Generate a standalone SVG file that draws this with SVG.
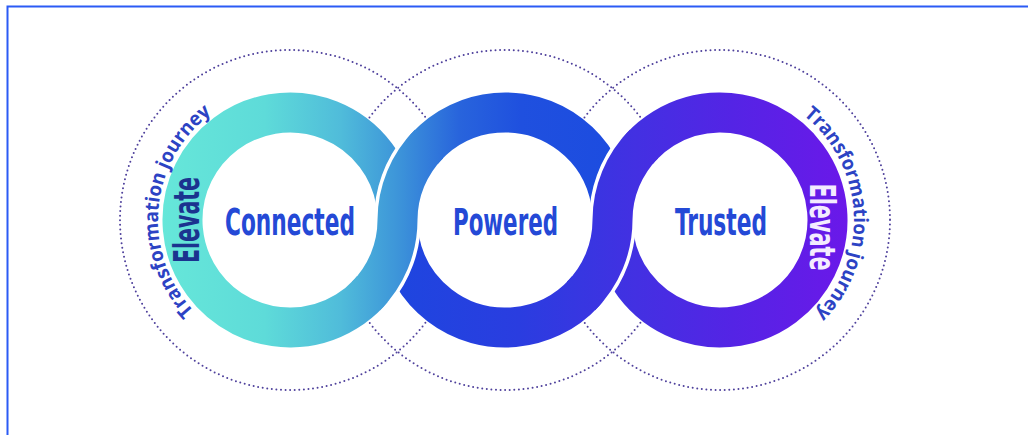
<svg xmlns="http://www.w3.org/2000/svg" xmlns:xlink="http://www.w3.org/1999/xlink" width="1028" height="435" viewBox="0 0 1028 435">
  <defs>
    <linearGradient id="gA" gradientUnits="userSpaceOnUse" x1="160" y1="0" x2="635" y2="0">
      <stop offset="0" stop-color="#66e7d9"/>
      <stop offset="0.22" stop-color="#5edbd9"/>
      <stop offset="0.38" stop-color="#50bcda"/>
      <stop offset="0.5" stop-color="#3d95d9"/>
      <stop offset="0.63" stop-color="#2864dc"/>
      <stop offset="0.76" stop-color="#1f50df"/>
      <stop offset="1" stop-color="#1c4be0"/>
    </linearGradient>
    <linearGradient id="gB" gradientUnits="userSpaceOnUse" x1="377" y1="0" x2="850" y2="0">
      <stop offset="0" stop-color="#1c47df"/>
      <stop offset="0.3" stop-color="#2a3de0"/>
      <stop offset="0.55" stop-color="#4330e2"/>
      <stop offset="0.75" stop-color="#5424e5"/>
      <stop offset="1" stop-color="#6b18e9"/>
    </linearGradient>
    <path id="arcL" d="M278.41 352.49 A133 133 0 0 1 301.59 87.51"/>
    <path id="arcR" d="M711.82 86.25 A134 134 0 0 1 728.18 353.75"/>
  </defs>
  <style>
    .dot { fill: none; stroke: #4f419c; stroke-width: 2; stroke-dasharray: 0 4.6; stroke-linecap: round; }
    .disk { fill: #ffffff; }
    .band { fill: none; stroke-width: 40; stroke-linejoin: round; }
    .gap { fill: none; stroke: #ffffff; stroke-width: 47; }
    .label { font-family: 'DejaVu Sans Condensed', 'DejaVu Sans', sans-serif; font-stretch: condensed; font-weight: bold; font-size: 37px; fill: #2449d6; text-anchor: middle; }
    .elev { font-family: 'DejaVu Sans Condensed', 'DejaVu Sans', sans-serif; font-stretch: condensed; font-weight: bold; font-size: 36px; text-anchor: middle; }
    .journey { font-family: 'Open Sans', 'DejaVu Sans', sans-serif; font-weight: 700; font-size: 19.5px; fill: #2c43c4; }
  </style>
  <rect x="0" y="0" width="1028" height="435" fill="#ffffff"/>
  <path d="M7.5 435 V6.5 H1028" fill="none" stroke="#2b5bf5" stroke-width="2"/>

  <g id="guides">
    <circle class="dot" cx="290" cy="220" r="170"/>
    <circle class="dot" cx="505" cy="220" r="170"/>
    <circle class="dot" cx="720" cy="220" r="170"/>
  </g>

  <g id="disks">
    <circle class="disk" cx="290" cy="220" r="127.5"/>
    <circle class="disk" cx="505" cy="220" r="127.5"/>
    <circle class="disk" cx="720" cy="220" r="127.5"/>
  </g>

  <g id="connectors">
    <path class="band" stroke="url(#gA)" d="M395.87 201.33 A107.5 107.5 0 1 0 397.5 220 A107.5 107.5 0 0 1 610.87 201.33"/>
    <path class="band" stroke="url(#gB)" d="M399.13 238.67 A107.5 107.5 0 0 0 612.5 220 A107.5 107.5 0 1 1 614.13 238.67"/>
    <path class="gap" d="M372.35 289.10 A107.5 107.5 0 0 0 397.5 220 A107.5 107.5 0 0 1 422.65 150.90"/>
    <path class="band" stroke="url(#gA)" d="M366.01 296.01 A107.5 107.5 0 0 0 397.5 220 A107.5 107.5 0 0 1 428.99 143.99"/>
    <path class="gap" d="M587.35 289.10 A107.5 107.5 0 0 0 612.5 220 A107.5 107.5 0 0 1 637.65 150.90"/>
    <path class="band" stroke="url(#gB)" d="M581.01 296.01 A107.5 107.5 0 0 0 612.5 220 A107.5 107.5 0 0 1 643.99 143.99"/>
  </g>

  <g id="node-connected">
    <text class="label" x="290" y="235" textLength="130" lengthAdjust="spacingAndGlyphs">Connected</text>
    <text class="elev" fill="#1b338f" transform="translate(199 220) rotate(-90)" textLength="86" lengthAdjust="spacingAndGlyphs">Elevate</text>
    <text class="journey"><textPath xlink:href="#arcL" startOffset="50%" text-anchor="middle" textLength="224" lengthAdjust="spacingAndGlyphs">Transformation journey</textPath></text>
  </g>

  <g id="node-powered">
    <text class="label" x="505.5" y="235" textLength="105" lengthAdjust="spacingAndGlyphs">Powered</text>
  </g>

  <g id="node-trusted">
    <text class="label" x="721" y="235" textLength="92" lengthAdjust="spacingAndGlyphs">Trusted</text>
    <text class="elev" fill="#f4ecff" transform="translate(810 227) rotate(90)" textLength="87" lengthAdjust="spacingAndGlyphs">Elevate</text>
    <text class="journey"><textPath xlink:href="#arcR" startOffset="50%" text-anchor="middle" textLength="224" lengthAdjust="spacingAndGlyphs">Transformation journey</textPath></text>
  </g>
</svg>
